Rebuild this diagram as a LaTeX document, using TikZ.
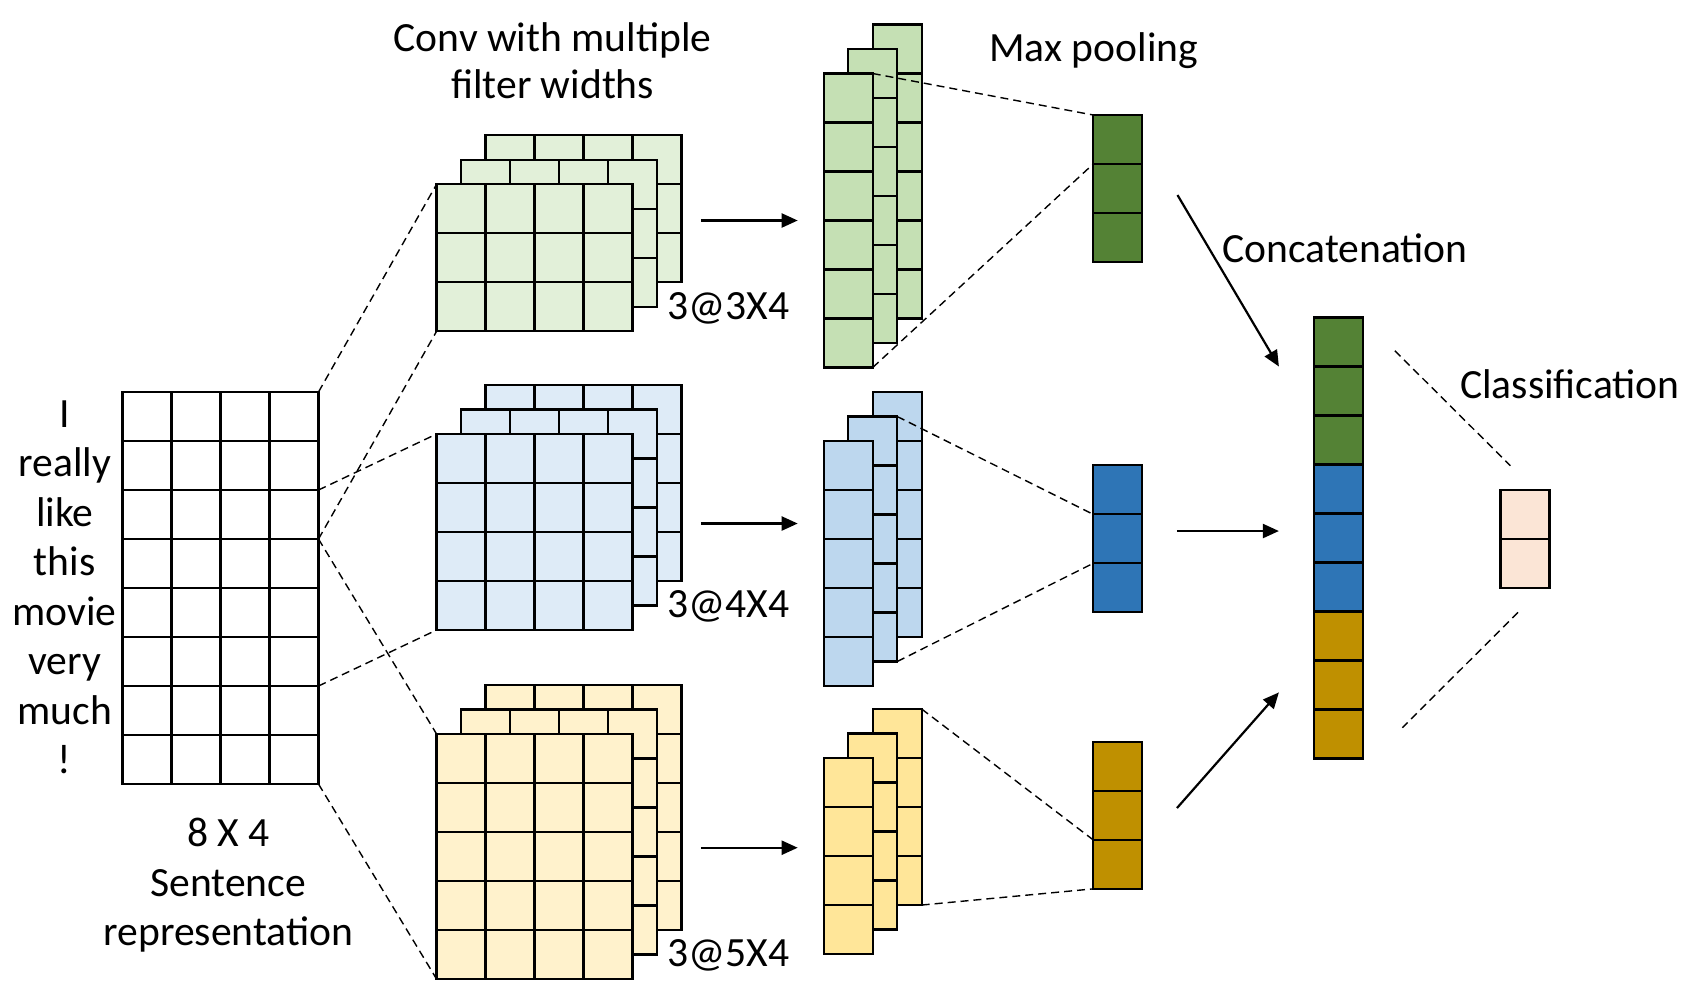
\documentclass[tikz,border=0pt]{standalone}
\usepackage{fontspec}
\setmainfont{Carlito}
\usetikzlibrary{arrows.meta,calc}

\definecolor{gconv}{HTML}{E2F0D9}
\definecolor{gfeat}{HTML}{C5E0B4}
\definecolor{gpool}{HTML}{548235}
\definecolor{bconv}{HTML}{DEEBF7}
\definecolor{bfeat}{HTML}{BDD7EE}
\definecolor{bpool}{HTML}{2E75B6}
\definecolor{yconv}{HTML}{FFF2CC}
\definecolor{yfeat}{HTML}{FFE699}
\definecolor{ypool}{HTML}{BF9000}
\definecolor{clsfill}{HTML}{FBE5D6}

% a block of square cells: name, top-left, columns, rows, fill
\newcommand{\fmap}[5]{%
  \node[layer, fill=#5, minimum width=#3*24.5pt, minimum height=#4*24.5pt] (#1) at (#2) {};
  \draw[gridline, shift={(#1.north west)}] (0,0) grid (#3,-#4);
}

\begin{document}
\begin{tikzpicture}[x=24.5pt, y=24.5pt,
  layer/.style={draw, line width=1.1pt, inner sep=0pt, outer sep=0pt, anchor=north west},
  gridline/.style={line width=1.1pt, step=1},
  dashline/.style={dash pattern=on 4pt off 2.5pt, line width=0.7pt},
  arr/.style={line width=1.1pt, -{Triangle[length=8pt,width=7pt]}},
  lbl/.style={font=\fontsize{20.8}{24.75}\selectfont, inner sep=0pt}]

\useasboundingbox (0,0) rectangle (34.612,-20.367);

% sentence
\fmap{sent}{2.5,-8}{4}{8}{white}
\node (words) [lbl, align=center] at (1.32,-11.99)
{I\\really\\like\\this\\movie\\very\\much\\!};
\node (sentlbl) [lbl, align=center] at (4.659,-18.065)
{8 X 4\\Sentence\\representation};

% convolution filters
\fmap{gcb}{9.91,-2.76}{4}{3}{gconv}
\fmap{gcm}{[shift={(-0.5,-0.5)}]gcb.north west}{4}{3}{gconv}
\fmap{gcf}{[shift={(-0.5,-0.5)}]gcm.north west}{4}{3}{gconv}
\fmap{bcb}{9.91,-7.857}{4}{4}{bconv}
\fmap{bcm}{[shift={(-0.5,-0.5)}]bcb.north west}{4}{4}{bconv}
\fmap{bcf}{[shift={(-0.5,-0.5)}]bcm.north west}{4}{4}{bconv}
\fmap{ycb}{9.91,-13.98}{4}{5}{yconv}
\fmap{ycm}{[shift={(-0.5,-0.5)}]ycb.north west}{4}{5}{yconv}
\fmap{ycf}{[shift={(-0.5,-0.5)}]ycm.north west}{4}{5}{yconv}

\node (gsize) [lbl, anchor=base west] at ([shift={(0.2,-0.25)}]gcm.south east) {3@3X4};
\node (bsize) [lbl, anchor=base west] at ([shift={(0.2,-0.25)}]bcm.south east) {3@4X4};
\node (ysize) [lbl, anchor=base west] at ([shift={(0.2,-0.25)}]ycm.south east) {3@5X4};

\node (title) [lbl, align=center, font=\fontsize{20.8}{23.35}\selectfont] at (11.28,-1.24)
{Conv with multiple\\filter widths};

% feature maps
\fmap{gfb}{17.81,-0.5}{1}{6}{gfeat}
\fmap{gfm}{[shift={(-0.5,-0.5)}]gfb.north west}{1}{6}{gfeat}
\fmap{gff}{[shift={(-0.5,-0.5)}]gfm.north west}{1}{6}{gfeat}
\fmap{bfb}{17.81,-8}{1}{5}{bfeat}
\fmap{bfm}{[shift={(-0.5,-0.5)}]bfb.north west}{1}{5}{bfeat}
\fmap{bff}{[shift={(-0.5,-0.5)}]bfm.north west}{1}{5}{bfeat}
\fmap{yfb}{17.81,-14.47}{1}{4}{yfeat}
\fmap{yfm}{[shift={(-0.5,-0.5)}]yfb.north west}{1}{4}{yfeat}
\fmap{yff}{[shift={(-0.5,-0.5)}]yfm.north west}{1}{4}{yfeat}

% pooled vectors
\fmap{gp}{22.31,-2.347}{1}{3}{gpool}
\fmap{bp}{22.31,-9.496}{1}{3}{bpool}
\fmap{yp}{22.31,-15.14}{1}{3}{ypool}
\node (pooltxt) [lbl, anchor=base] at (22.32,-1.259) {Max pooling};

% concatenated vector and output
\fmap{catg}{26.81,-6.48}{1}{3}{gpool}
\fmap{catb}{26.81,-9.48}{1}{3}{bpool}
\fmap{caty}{26.81,-12.48}{1}{3}{ypool}
\node (cattxt) [lbl, anchor=base] at (27.45,-5.361) {Concatenation};
\fmap{cls}{30.62,-10}{1}{2}{clsfill}
\node (clstxt) [lbl, anchor=base] at (32.04,-8.129) {Classification};

% filters over the sentence
\draw[dashline] (sent.north east) -- (gcf.north west);
\draw[dashline] ($(sent.north east)+(0,-3)$) -- (gcf.south west);
\draw[dashline] ($(sent.north east)+(0,-2)$) -- (bcf.north west);
\draw[dashline] ($(sent.north east)+(0,-6)$) -- (bcf.south west);
\draw[dashline] ($(sent.north east)+(0,-3)$) -- (ycf.north west);
\draw[dashline] (sent.south east) -- (ycf.south west);

% conv to feature maps
\coordinate (garr) at (0,-4.5);
\coordinate (barr) at (0,-10.684);
\coordinate (yarr) at (0,-17.3);
\draw[arr, shorten <=9.65pt, shorten >=13pt] (gcb.east |- garr) -- (gff.west |- garr);
\draw[arr, shorten <=9.65pt, shorten >=13pt] (bcb.east |- barr) -- (bff.west |- barr);
\draw[arr, shorten <=9.65pt, shorten >=13pt] (ycb.east |- yarr) -- (yff.west |- yarr);

% max pooling
\draw[dashline] (gff.north east) -- (gp.north west);
\draw[dashline] (gff.south east) -- ($(gp.north west)+(0,-1)$);
\draw[dashline] (bfm.north east) -- ($(bp.north west)+(0,-1)$);
\draw[dashline] (bfm.south east) -- ($(bp.north west)+(0,-2)$);
\draw[dashline] (yfb.north east) -- ($(yp.north west)+(0,-2)$);
\draw[dashline] (yfb.south east) -- (yp.south west);

% concatenation
\coordinate (gout) at (24.03,-3.98);
\coordinate (gin) at (26.1,-7.48);
\coordinate (bout) at (24.02,-10.837);
\coordinate (bin) at (26.1,-10.837);
\coordinate (yout) at (24.02,-16.49);
\coordinate (yin) at (26.1,-14.13);
\draw[arr] (gout) -- (gin);
\draw[arr] (bout) -- (bin);
\draw[arr] (yout) -- (yin);

% classification
\coordinate (cu1) at (28.465,-7.157);
\coordinate (cu2) at (30.824,-9.504);
\coordinate (cl1) at (30.98,-12.496);
\coordinate (cl2) at (28.62,-14.851);
\draw[dashline] (cu1) -- (cu2);
\draw[dashline] (cl1) -- (cl2);

\end{tikzpicture}
\end{document}
